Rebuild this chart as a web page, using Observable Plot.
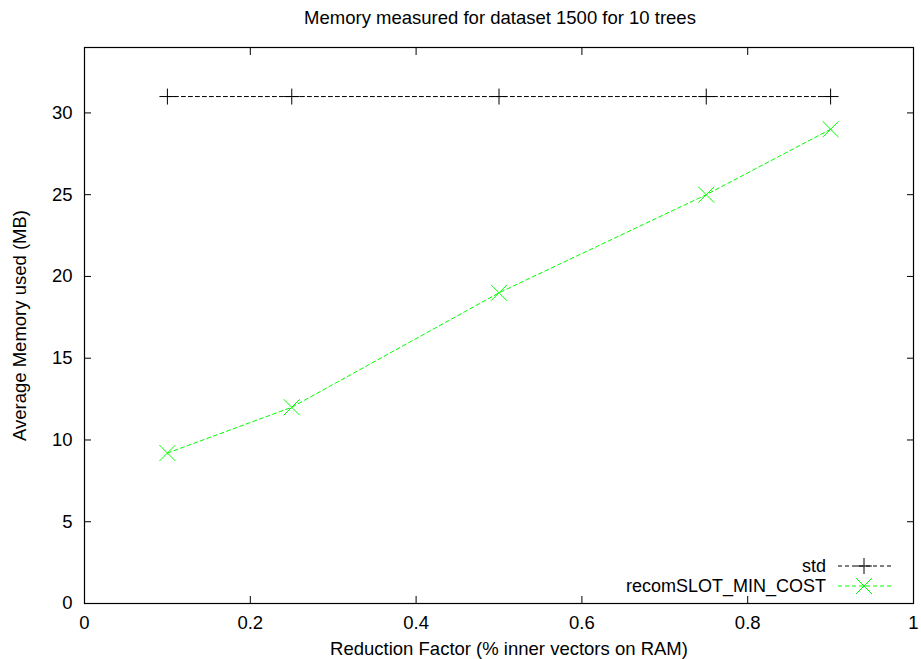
<!DOCTYPE html>
<html>
<head>
<meta charset="utf-8">
<script src="https://cdn.jsdelivr.net/npm/d3@7"></script>
<script src="https://cdn.jsdelivr.net/npm/@observablehq/plot@0.6"></script>
<style>
  body { margin: 0; background: #fff; }
  #wrap { position: relative; width: 921px; height: 659px; }
  #legend { position: absolute; left: 0; top: 0; }
</style>
</head>
<body>
<div id="wrap"></div>
<script>
const title = "Memory measured for dataset 1500 for 10 trees";
const xLabel = "Reduction Factor (% inner vectors on RAM)";
const yLabel = "Average Memory used (MB)";
const factors = [0.1, 0.25, 0.5, 0.75, 0.9];
const stdValues = [31, 31, 31, 31, 31];
const recomValues = [9.2, 12, 19, 25, 29];
const seriesNames = ["std", "recomSLOT_MIN_COST"];
const xTicks = [0, 0.2, 0.4, 0.6, 0.8, 1];
const yTicks = [0, 5, 10, 15, 20, 25, 30];

const stdData = factors.map((f, i) => ({x: f, y: stdValues[i]}));
const recomData = factors.map((f, i) => ({x: f, y: recomValues[i]}));

const font = "Liberation Sans, Arial, sans-serif";
const fs = 18.5;
const green = "#00ff00";
const plusR = 5.2, timesR = 7.3;

const chart = Plot.plot({
  width: 921,
  height: 659,
  marginLeft: 84,
  marginRight: 8,
  marginTop: 47,
  marginBottom: 56,
  style: {fontFamily: font, fontSize: fs + "px", color: "#000", background: "#fff"},
  x: {domain: [0, 1]},
  y: {domain: [0, 34]},
  marks: [
    Plot.axisX(xTicks, {anchor: "bottom", tickSize: -7, tickPadding: 19, label: null, tickFormat: d => String(d), fontSize: fs}),
    Plot.axisX(xTicks, {anchor: "top", tickSize: -7, tickFormat: () => "", label: null}),
    Plot.axisY(yTicks, {anchor: "left", tickSize: -7, tickPadding: 19, label: null, fontSize: fs}),
    Plot.axisY(yTicks, {anchor: "right", tickSize: -7, tickFormat: () => "", label: null}),
    Plot.frame({stroke: "#000", strokeWidth: 1.2}),
    Plot.line(stdData, {x: "x", y: "y", stroke: "#000", strokeWidth: 1, strokeDasharray: "4,3"}),
    Plot.dot(stdData, {x: "x", y: "y", symbol: "plus", r: plusR, stroke: "#000", strokeWidth: 1}),
    Plot.line(recomData, {x: "x", y: "y", stroke: green, strokeWidth: 1, strokeDasharray: "4,3"}),
    Plot.dot(recomData, {x: "x", y: "y", symbol: "times", r: timesR, stroke: green, strokeWidth: 1}),
    Plot.text([title], {frameAnchor: "top", dy: -29, dx: 1, lineAnchor: "middle", fontSize: fs}),
    Plot.text([xLabel], {frameAnchor: "bottom", dy: 46, dx: 10, lineAnchor: "middle", fontSize: fs}),
    Plot.text([yLabel], {frameAnchor: "left", dx: -64, rotate: -90, lineAnchor: "middle", textAnchor: "middle", fontSize: fs})
  ]
});
document.getElementById("wrap").appendChild(chart);

// Legend (inside plot, bottom-right)
const leg = d3.select("#wrap").append("svg")
  .attr("id", "legend").attr("width", 921).attr("height", 659)
  .style("pointer-events", "none");
const styles = [
  {stroke: "#000", symbol: d3.symbolPlus, size: Math.PI * plusR * plusR},
  {stroke: green, symbol: d3.symbolTimes, size: Math.PI * timesR * timesR}
];
seriesNames.forEach((name, i) => {
  const yy = 566 + i * 20;
  const g = leg.append("g");
  g.append("text").attr("x", 826).attr("y", yy).attr("dy", "0.34em").attr("text-anchor", "end")
    .attr("font-family", font).attr("font-size", 18).text(name);
  g.append("line").attr("x1", 838).attr("x2", 892).attr("y1", yy).attr("y2", yy)
    .attr("stroke", styles[i].stroke).attr("stroke-dasharray", "4,3");
  g.append("path").attr("transform", `translate(864,${yy})`)
    .attr("d", d3.symbol(styles[i].symbol, styles[i].size)())
    .attr("fill", "none").attr("stroke", styles[i].stroke);
});
</script>
</body>
</html>
